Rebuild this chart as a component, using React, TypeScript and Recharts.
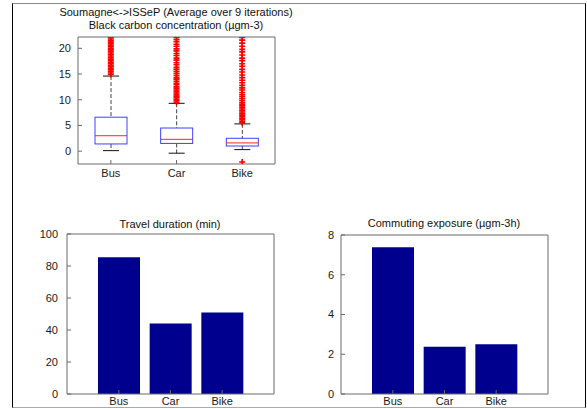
import { ComposedChart, BarChart, Bar, Scatter, XAxis, YAxis, CartesianGrid } from "recharts";

const MODES = ["Bus", "Car", "Bike"];

// black carbon boxplot statistics (µgm-3)
const WHISKER_LOW = [0.1, -0.4, 0.3];
const Q1 = [1.4, 1.5, 1.0];
const MEDIAN = [3.0, 2.3, 1.6];
const Q3 = [6.6, 4.5, 2.5];
const WHISKER_HIGH = [14.6, 9.3, 5.3];

const BUS_OUTLIERS = [
  14.9, 15.2, 15.5, 15.8, 16.1, 16.4, 16.7, 17.0, 17.3, 17.6, 17.9, 18.2, 18.5,
  18.8, 19.1, 19.4, 19.7, 20.0, 20.3, 20.6, 20.9, 21.2, 21.5, 21.8, 22.1,
];
const CAR_OUTLIERS = [
  9.5, 9.8, 10.1, 10.4, 10.7, 11.0, 11.3, 11.6, 11.9, 12.2, 12.5, 12.9, 13.2,
  13.6, 14.0, 14.3, 14.7, 15.1, 15.5, 15.9, 16.3, 16.8, 17.2, 17.7, 18.1, 18.6,
  19.0, 19.5, 19.9, 20.4, 20.8, 21.3, 21.7, 22.1,
];
const BIKE_OUTLIERS = [
  -2.1, 5.5, 5.8, 6.1, 6.4, 6.7, 7.0, 7.3, 7.6, 7.9, 8.2, 8.5, 8.8, 9.1, 9.4,
  9.8, 10.2, 10.6, 11.0, 11.4, 11.9, 12.3, 12.8, 13.3, 13.8, 14.3, 14.8, 15.4,
  15.9, 16.5, 17.0, 17.6, 18.1, 18.7, 19.3, 19.8, 20.4, 21.0, 21.6, 22.1,
];

const BC_TICKS = [0, 5, 10, 15, 20];

// travel duration (min) and commuting exposure (µgm-3h)
const DURATION = [85.5, 44, 51];
const DURATION_TICKS = [0, 20, 40, 60, 80, 100];
const EXPOSURE = [7.38, 2.38, 2.5];
const EXPOSURE_TICKS = [0, 2, 4, 6, 8];

const boxData = MODES.map((mode, i) => ({
  mode,
  range: [WHISKER_LOW[i], WHISKER_HIGH[i]],
  q1: Q1[i],
  median: MEDIAN[i],
  q3: Q3[i],
}));

const outlierData = [
  ...BUS_OUTLIERS.map((v) => ({ mode: "Bus", v })),
  ...CAR_OUTLIERS.map((v) => ({ mode: "Car", v })),
  ...BIKE_OUTLIERS.map((v) => ({ mode: "Bike", v })),
];

const durationData = MODES.map((mode, i) => ({ mode, value: DURATION[i] }));
const exposureData = MODES.map((mode, i) => ({ mode, value: EXPOSURE[i] }));

const FONT = "'Liberation Sans', Arial, Helvetica, sans-serif";
const AXIS = "#6a6a6a";
const TICK = { fill: "#1a1a1a", fontSize: 11, fontFamily: FONT };
const BAR = "#00008f";

// top and right edges of the axes box
const topEdge = ({ offset }: any) => [offset.top];
const rightEdge = ({ offset }: any) => [offset.left + offset.width];

function BoxShape(props: any) {
  const { x, y, width, height, payload } = props;
  const [lo, hi] = payload.range;
  const py = (v: number) => y + (height * (hi - v)) / (hi - lo);
  const cx = x + width / 2;
  const cap = width / 4;
  return (
    <g>
      <line x1={cx} x2={cx} y1={py(hi)} y2={py(payload.q3)} stroke="#444" strokeDasharray="4 2" />
      <line x1={cx} x2={cx} y1={py(payload.q1)} y2={py(lo)} stroke="#444" strokeDasharray="4 2" />
      <line x1={cx - cap} x2={cx + cap} y1={py(hi)} y2={py(hi)} stroke="#111" />
      <line x1={cx - cap} x2={cx + cap} y1={py(lo)} y2={py(lo)} stroke="#111" />
      <rect
        x={x}
        y={py(payload.q3)}
        width={width}
        height={py(payload.q1) - py(payload.q3)}
        fill="none"
        stroke="#4040ff"
      />
      <line x1={x} x2={x + width} y1={py(payload.median)} y2={py(payload.median)} stroke="#ff2020" />
    </g>
  );
}

const PlusShape = (p: any) => (
  <path d={`M${p.cx - 3},${p.cy}h6M${p.cx},${p.cy - 3}v6`} stroke="#ff0000" strokeWidth={1.6} fill="none" />
);

const titleStyle = (left: number, top: number, width: number): React.CSSProperties => ({
  position: "absolute",
  left,
  top,
  width,
  textAlign: "center",
  fontFamily: FONT,
  fontSize: 11,
  color: "#111",
  lineHeight: "13px",
  whiteSpace: "nowrap",
});

export default function App() {
  return (
    <div style={{ position: "absolute", left: 0, top: 0, width: 587, height: 409, background: "#fff" }}>
      <div
        style={{
          position: "absolute",
          left: 12,
          top: 3,
          width: 572,
          height: 403,
          borderLeft: "1px solid #000",
          borderRight: "1px solid #000",
          borderTop: "1px solid #888",
          borderBottom: "1px solid #aaa",
        }}
      />

      <div style={titleStyle(26, 6, 300)}>Soumagne&lt;-&gt;ISSeP (Average over 9 iterations)</div>
      <div style={titleStyle(26, 19, 300)}>Black carbon concentration (µgm-3)</div>
      <div style={titleStyle(20, 218, 300)}>Travel duration (min)</div>
      <div style={titleStyle(294, 217, 300)}>Commuting exposure (µgm-3h)</div>

      <div style={{ position: "absolute", left: 0, top: 30 }}>
        <ComposedChart width={300} height={160} data={boxData} margin={{ top: 7, right: 25, bottom: 6, left: 0 }}>
          <CartesianGrid
            stroke={AXIS}
            horizontalCoordinatesGenerator={topEdge}
            verticalCoordinatesGenerator={rightEdge}
          />
          <XAxis
            dataKey="mode"
            allowDuplicatedCategory={false}
            height={20}
            stroke={AXIS}
            tick={TICK}
            tickSize={-4}
            tickMargin={9}
          />
          <YAxis
            width={78}
            domain={[-2.5, 22.2]}
            ticks={BC_TICKS}
            allowDataOverflow
            stroke={AXIS}
            tick={TICK}
            tickSize={-4}
            tickMargin={11}
          />
          <Bar dataKey="range" barSize={32} shape={BoxShape} isAnimationActive={false} />
          <Scatter data={outlierData} dataKey="v" shape={PlusShape} isAnimationActive={false} />
        </ComposedChart>
      </div>

      <div style={{ position: "absolute", left: 0, top: 214 }}>
        <BarChart width={300} height={195} data={durationData} margin={{ top: 20, right: 26, bottom: 0, left: 0 }}>
          <CartesianGrid
            stroke={AXIS}
            horizontalCoordinatesGenerator={topEdge}
            verticalCoordinatesGenerator={rightEdge}
          />
          <XAxis
            dataKey="mode"
            height={15}
            padding={{ left: 26, right: 26 }}
            stroke={AXIS}
            tick={TICK}
            tickSize={-4}
            tickMargin={7}
          />
          <YAxis
            width={67}
            domain={[0, 100]}
            ticks={DURATION_TICKS}
            stroke={AXIS}
            tick={TICK}
            tickSize={-4}
            tickMargin={13}
          />
          <Bar dataKey="value" fill={BAR} barSize={42} isAnimationActive={false} />
        </BarChart>
      </div>

      <div style={{ position: "absolute", left: 290, top: 214 }}>
        <BarChart width={297} height={195} data={exposureData} margin={{ top: 21, right: 39, bottom: 0, left: 0 }}>
          <CartesianGrid
            stroke={AXIS}
            horizontalCoordinatesGenerator={topEdge}
            verticalCoordinatesGenerator={rightEdge}
          />
          <XAxis
            dataKey="mode"
            height={15}
            padding={{ left: 26, right: 26 }}
            stroke={AXIS}
            tick={TICK}
            tickSize={-4}
            tickMargin={7}
          />
          <YAxis
            width={51}
            domain={[0, 8]}
            ticks={EXPOSURE_TICKS}
            stroke={AXIS}
            tick={TICK}
            tickSize={-4}
            tickMargin={11}
          />
          <Bar dataKey="value" fill={BAR} barSize={42} isAnimationActive={false} />
        </BarChart>
      </div>
    </div>
  );
}
